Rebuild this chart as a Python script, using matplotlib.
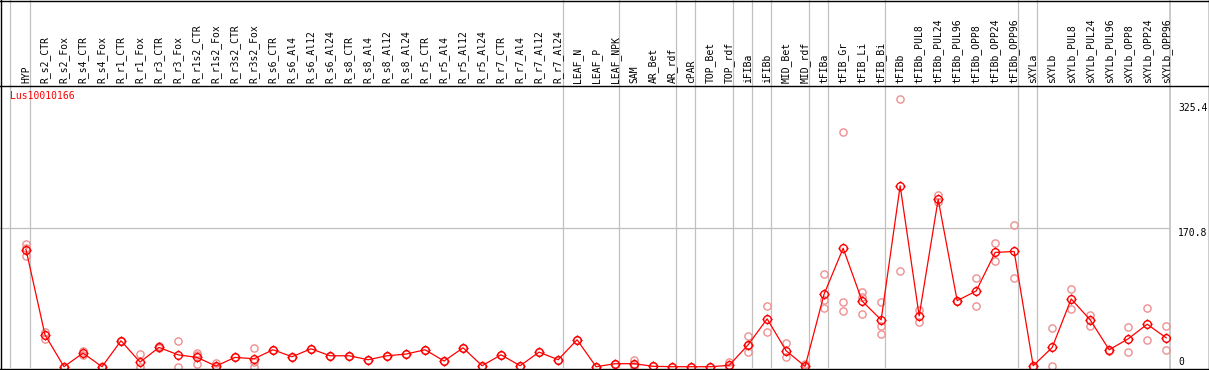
import numpy as np
import matplotlib
matplotlib.use("Agg")
import matplotlib.pyplot as plt
from matplotlib.path import Path
from matplotlib.lines import Line2D

gene = "Lus10010166"

labels = ["HYP", "R_s2_CTR", "R_s2_Fox", "R_s4_CTR", "R_s4_Fox", "R_r1_CTR", "R_r1_Fox",
          "R_r3_CTR", "R_r3_Fox", "R_r1s2_CTR", "R_r1s2_Fox", "R_r3s2_CTR", "R_r3s2_Fox",
          "R_s6_CTR", "R_s6_Al4", "R_s6_Al12", "R_s6_Al24", "R_s8_CTR", "R_s8_Al4",
          "R_s8_Al12", "R_s8_Al24", "R_r5_CTR", "R_r5_Al4", "R_r5_Al12", "R_r5_Al24",
          "R_r7_CTR", "R_r7_Al4", "R_r7_Al12", "R_r7_Al24", "LEAF_N", "LEAF_P", "LEAF_NPK",
          "SAM", "AR_Bet", "AR_rdf", "cPAR", "TOP_Bet", "TOP_rdf", "iFIBa", "iFIBb",
          "MID_Bet", "MID_rdf", "tFIBa", "tFIB_Gr", "tFIB_Li", "tFIB_Bi", "tFIBb",
          "tFIBb_PUL8", "tFIBb_PUL24", "tFIBb_PUL96", "tFIBb_OPP8", "tFIBb_OPP24",
          "tFIBb_OPP96", "sXYLa", "sXYLb", "sXYLb_PUL8", "sXYLb_PUL24", "sXYLb_PUL96",
          "sXYLb_OPP8", "sXYLb_OPP24", "sXYLb_OPP96"]

means = [144.6, 39.3, 0, 16.8, 0, 32, 5.7, 23.8, 14.7, 11.5, 0.8, 11.5, 9.8,
         20.9, 12.3, 22.1, 13.5, 13.5, 8.6, 13.5, 15.6, 20.9, 7, 23.3, 1.2,
         14.7, 1.2, 18, 8.6, 33.2, 0, 3.7, 3.7, 0.5, 0, 0, 0, 1.6, 27, 59,
         19.7, 0.4, 89.7, 146.2, 81, 57.8, 223.2, 62.7, 206.4, 81.5, 93.4, 141,
         142.2, 1.2, 23.7, 83.6, 57.8, 20.9, 34.4, 52.4, 35.6]

replicates = [[152, 146, 137], [43.4, 34.4], [0, 0], [19.7, 14.7], [0, 0], [32, 32],
              [15.6, 0], [25, 22.5], [32, 0], [16.8, 3.7, 14], [4.5, 0], [11.5],
              [23, 0, 6], [20.9], [12.3], [22.1], [13.5], [13.5], [8.6], [13.5], [15.6],
              [20.9], [7], [23.3], [1.2], [14.7], [1.2], [18], [8.6], [33.2], [0], [3.7],
              [8.6, 1, 3.7], [0.5], [0], [0], [0], [5.7, 0], [37.3, 18, 27], [75, 43],
              [28.7, 12.3], [3, 0], [114, 82.3, 72], [290, 79.5, 68.8],
              [92.5, 64.7, 85.6], [79.5, 50.8, 40.2], [330, 118], [70, 54.9],
              [211.3, 203], [81.5], [110, 75], [152.4, 129.9], [174.5, 110], [0],
              [47.5, 0.4], [95.5, 70.9], [63.9, 50.8], [18.8], [48.8, 18.4],
              [72.1, 32.8], [50.8, 20.9]]

# group separators (sample index positions)
separators = [-0.84, 0.2, 28.25, 31.2, 34.2, 35.2, 37.2, 38.2, 39.2, 41.2, 42.2,
              45.2, 52.2, 53.2]
ytick_vals = [325.4, 170.8, 0]

mono = "DejaVu Sans Mono"
W, H = 1209, 370
fig = plt.figure(figsize=(W / 100, H / 100), dpi=100)
x_lo, x_hi = -1.368, 60.2
right = 1170 / W
ax_head = fig.add_axes([0, (H - 85) / H, right, 85 / H])
ax = fig.add_axes([0, (H - 368) / H, right, (368 - 85) / H])

x = np.arange(len(labels))

# header with rotated sample names
ax_head.set_xlim(x_lo, x_hi)
ax_head.set_ylim(85, 0)
ax_head.axis("off")
for i, lab in enumerate(labels):
    ax_head.text(i, 83, lab, rotation=90, ha="center", va="bottom",
                 fontsize=7, family=mono, color="black")

grid_c = "#c0c0c0"
for s in separators:
    ax_head.axvline(s, color=grid_c, lw=0.9)
    ax.axvline(s, color=grid_c, lw=0.9)
ax_head.axvline(x_hi, color=grid_c, lw=1.2, clip_on=False)
ax.axvline(x_hi, color=grid_c, lw=1.2, clip_on=False)

# main plot
ax.set_xlim(x_lo, x_hi)
ax.set_ylim(-1.6, 347.6)
for sp in ax.spines.values():
    sp.set_visible(False)
ax.set_xticks([])
ax.set_yticks([])
ax.axhline(170.8, color=grid_c, lw=0.9)

rx = [i for i, r in enumerate(replicates) for _ in r]
ry = [v for r in replicates for v in r]
ax.plot(rx, ry, linestyle="none", marker="o", markersize=5.2,
        markerfacecolor="none", markeredgecolor="#ee9090", markeredgewidth=1.0)

# mean marker: circle with 4 small ticks
circ = Path.unit_circle()
ticks = [Path([[0, 1], [0, 1.35]], [Path.MOVETO, Path.LINETO]),
         Path([[0, -1], [0, -1.35]], [Path.MOVETO, Path.LINETO]),
         Path([[1, 0], [1.35, 0]], [Path.MOVETO, Path.LINETO]),
         Path([[-1, 0], [-1.35, 0]], [Path.MOVETO, Path.LINETO])]
mean_marker = Path.make_compound_path(circ, *ticks)

ax.plot(x, means, color="red", lw=0.9, marker=mean_marker, markersize=7.4,
        markerfacecolor="none", markeredgecolor="red", markeredgewidth=1.0)

ax.text(-1.368 + 10 / 19, 340.5, gene, color="red", fontsize=7, family=mono,
        ha="left", va="top")

tx = x_hi + 8 / 19
for v in ytick_vals:
    ax.text(tx, v, f"{v:g}" if v == 0 else f"{v:.1f}", fontsize=7, family=mono,
            ha="left", va="bottom" if v == 0 else "top", clip_on=False)

# outer frame
def fline(xs, ys, lw=1.0):
    fig.add_artist(Line2D(xs, ys, transform=fig.transFigure, color="black", lw=lw))

fline([0, 1], [(H - 85.5) / H] * 2)
fline([0, 1], [(H - 368.5) / H] * 2)
fline([0, 1], [1 - 0.5 / H] * 2)
fline([0.5 / W, 0.5 / W], [0, 1])
fline([1 - 0.5 / W, 1 - 0.5 / W], [0, 1])

fig.savefig("out.png", dpi=100)
